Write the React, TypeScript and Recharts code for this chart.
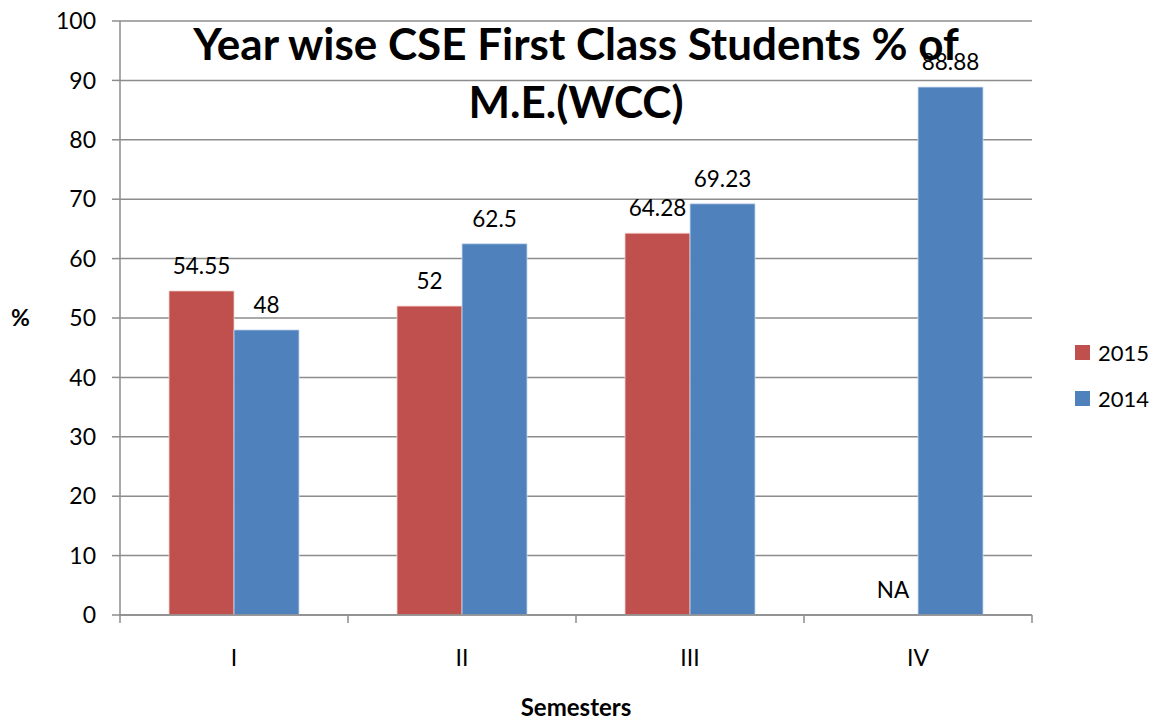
import React from "react";
import { BarChart, Bar, XAxis, YAxis, CartesianGrid, LabelList } from "recharts";

const semesters = ["I", "II", "III", "IV"];
const values2015: (number | null)[] = [54.55, 52, 64.28, null];
const values2014: number[] = [48, 62.5, 69.23, 88.88];
const yTicks = [0, 10, 20, 30, 40, 50, 60, 70, 80, 90, 100];
const legendItems = [
  { name: "2015", color: "#C0504D" },
  { name: "2014", color: "#4F81BD" },
];

const RED = "#C0504D";
const BLUE = "#4F81BD";
const GRID = "#8c8c8c";
const FONT = "Lato, 'Open Sans', sans-serif";

const data = semesters.map((s, i) => ({
  sem: s,
  v2015: values2015[i] ?? 0,
  l2015: values2015[i] === null ? "NA" : String(values2015[i]),
  v2014: values2014[i],
  l2014: String(values2014[i]),
}));

const W = 1155;
const H = 723;
const M = { top: 21, right: 123, left: 0, bottom: 0 };
const YW = 120;
const XH = 108;
const plotW = W - M.right - YW;
const half = plotW / semesters.length / 2;

const XTick = (props: any) => {
  const { x, y, payload, index } = props;
  const isLast = index === semesters.length - 1;
  const na = values2015[index] === null;
  return (
    <g>
      <line x1={x - half} x2={x - half} y1={y} y2={y + 8} stroke={GRID} strokeWidth={1.5} />
      {isLast && <line x1={x + half} x2={x + half} y1={y} y2={y + 8} stroke={GRID} strokeWidth={1.5} />}
      <text x={x} y={y + 51} textAnchor="middle" fontSize={23} fill="#000" fontFamily={FONT}>
        {payload.value}
      </text>
      {na && (
        <text x={x - 25} y={y - 17} textAnchor="middle" fontSize={22.5} fill="#000" fontFamily={FONT}>
          NA
        </text>
      )}
    </g>
  );
};

export default function App() {
  return (
    <div style={{ position: "absolute", left: 0, top: 0, width: W, height: H, background: "#fff" }}>
      <BarChart
        width={W}
        height={H}
        data={data}
        margin={M}
        barCategoryGap="21.5%"
        barGap={0}
      >
        <CartesianGrid vertical={false} stroke={GRID} strokeWidth={1.5} />
        <XAxis
          dataKey="sem"
          height={XH}
          axisLine={{ stroke: GRID, strokeWidth: 1.5 }}
          tickLine={false}
          tickSize={0}
          tickMargin={0}
          tick={<XTick />}
          interval={0}
          label={{ value: "Semesters", position: "insideBottom", offset: 7, fontSize: 24, fontWeight: 700, fill: "#000", fontFamily: FONT }}
        />
        <YAxis
          width={YW}
          domain={[0, 100]}
          ticks={yTicks}
          interval={0}
          axisLine={{ stroke: GRID, strokeWidth: 1.5 }}
          tickLine={{ stroke: GRID, strokeWidth: 1.5 }}
          tickSize={8}
          tickMargin={16}
          tick={{ fontSize: 23, fill: "#000", fontFamily: FONT }}
          label={{ value: "%", position: "insideLeft", offset: 11, fontSize: 23, fontWeight: 700, fill: "#000", fontFamily: FONT }}
        />
        <Bar dataKey="v2015" name="2015" fill={RED} stroke="#f2d0cf" strokeWidth={0.8} isAnimationActive={false}>
          <LabelList dataKey="l2015" position="top" offset={17} fontSize={22.5} fill="#000" fontFamily={FONT} />
        </Bar>
        <Bar dataKey="v2014" name="2014" fill={BLUE} stroke="#cfdcee" strokeWidth={0.8} isAnimationActive={false}>
          <LabelList dataKey="l2014" position="top" offset={17} fontSize={22.5} fill="#000" fontFamily={FONT} />
        </Bar>
      </BarChart>
      <div
        style={{
          position: "absolute",
          left: 1075,
          top: 329,
          fontFamily: FONT,
          fontSize: 22,
          color: "#000",
        }}
      >
        {legendItems.map((it) => (
          <div key={it.name} style={{ display: "flex", alignItems: "center", height: 46 }}>
            <span style={{ width: 15, height: 15, background: it.color, display: "inline-block", marginRight: 8 }} />
            <span>{it.name}</span>
          </div>
        ))}
      </div>
      <div
        style={{
          position: "absolute",
          left: 120,
          width: 912,
          top: 14,
          textAlign: "center",
          fontFamily: FONT,
          fontWeight: 700,
          fontSize: 44,
          lineHeight: "58px",
          color: "#000",
          pointerEvents: "none",
        }}
      >
        Year wise CSE First Class Students % of
        <br />
        M.E.(WCC)
      </div>
    </div>
  );
}
